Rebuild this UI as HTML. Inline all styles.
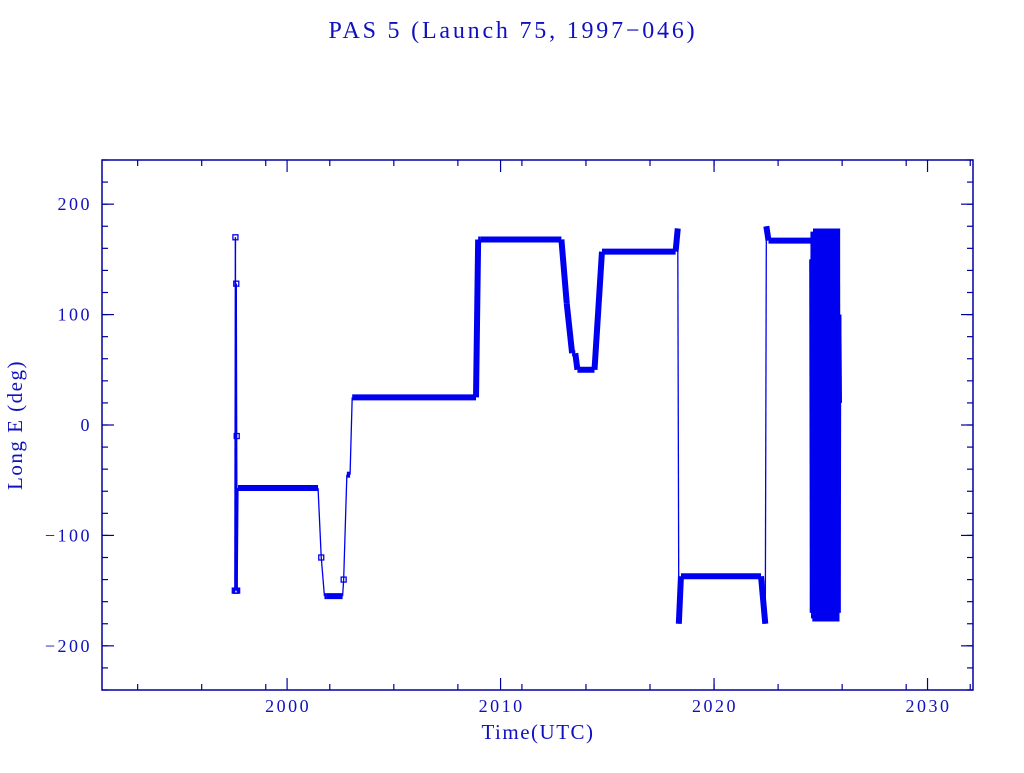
<!DOCTYPE html>
<html><head><meta charset="utf-8"><style>
body{margin:0;background:#fff;width:1024px;height:768px;overflow:hidden}
svg text{font-family:"Liberation Serif",serif;fill:#1010c0}
</style></head><body>
<svg id="chart" width="1024" height="768" xmlns="http://www.w3.org/2000/svg">
<text x="513" y="38" text-anchor="middle" font-size="24" letter-spacing="2.8">PAS 5 (Launch 75, 1997−046)</text>
<text x="538" y="739" text-anchor="middle" font-size="21" letter-spacing="1.5">Time(UTC)</text>
<text transform="translate(22,425) rotate(-90)" text-anchor="middle" font-size="21" letter-spacing="1.5">Long E (deg)</text>
<rect x="102" y="160" width="871" height="530" fill="none" stroke="#0000a0" stroke-width="1.5"/>
<g id="ticks"></g><g id="marks"></g>
</svg>
<script>
const xTickLabels=[2000,2010,2020,2030];
const yTickLabels=[200,100,0,-100,-200];
const years=[1997.55,1997.58,1997.6,1997.62,1997.64,1997.66,1997.7,2001.45,2001.6,2001.75,2001.85,2002.6,2002.65,2002.8,2002.95,2003.05,2008.85,2008.95,2009.05,2012.85,2013.1,2013.35,2013.5,2013.6,2014.4,2014.75,2018.2,2018.3,2018.35,2018.45,2022.2,2022.4,2022.45,2022.55,2024.55];
const lons=[-150,170,-150,128,-10,-150,-57,-57,-120,-155,-155,-155,-140,-45,-45,25,25,168,168,168,110,65,65,50,50,157,157,178,-180,-137,-137,-180,180,167,167];
const thick=[0,0,0,0,0,0,1,0,0,1,1,0,0,1,0,1,1,1,1,1,1,1,1,1,1,1,1,0,1,1,1,0,1,1,0];
const noiseYears=[2024.55,2024.58,2024.61,2024.64,2024.67,2024.7,2024.73,2024.76,2024.79,2024.82,2024.85,2024.88,2024.91,2024.94,2024.97,2025.0,2025.03,2025.06,2025.09,2025.12,2025.15,2025.18,2025.21,2025.24,2025.27,2025.3,2025.33,2025.36,2025.39,2025.42,2025.45,2025.48,2025.51,2025.54,2025.57,2025.6,2025.63,2025.66,2025.69,2025.72,2025.75,2025.78,2025.81,2025.84,2025.87,2025.9];
const noiseLons=[150,-170,175,-175,120,-178,178,-160,170,-178,178,-175,175,-178,160,-178,178,-170,178,-178,175,-175,178,-178,170,-175,178,-178,175,-170,178,-178,175,-178,178,-178,170,-178,178,-175,175,-178,178,-170,100,20];
const X=y=>102+(y-1991.33)*871/(2032.13-1991.33);
const Y=v=>690-(v+240)*530/480;
const ns="http://www.w3.org/2000/svg";
const tk=document.getElementById('ticks'),mk=document.getElementById('marks');
function line(g,x1,y1,x2,y2,w,c){const l=document.createElementNS(ns,'line');l.setAttribute('x1',x1);l.setAttribute('y1',y1);l.setAttribute('x2',x2);l.setAttribute('y2',y2);l.setAttribute('stroke',c);l.setAttribute('stroke-width',w);g.appendChild(l);return l;}
function txt(g,x,y,s,a){const t=document.createElementNS(ns,'text');t.setAttribute('x',x);t.setAttribute('y',y);t.setAttribute('text-anchor',a);t.setAttribute('font-size','18');t.setAttribute('letter-spacing','2.5');t.textContent=s;g.appendChild(t);return t;}
for(let yr=1993;yr<=2032;yr+=3){const x=X(yr);
const a=line(tk,x,690,x,684,1.2,'#0000a0');
const b=line(tk,x,160,x,166,1.2,'#0000a0');}
xTickLabels.forEach(v=>{const x=X(v);
const a=line(tk,x,690,x,678,1.2,'#0000a0');
const b=line(tk,x,160,x,172,1.2,'#0000a0');
const t=txt(tk,x+1,712,String(v),'middle');});
for(let v=-240;v<=240;v+=20){const y=Y(v);
const a=line(tk,102,y,108,y,1.2,'#0000a0');
const b=line(tk,973,y,967,y,1.2,'#0000a0');}
yTickLabels.forEach(v=>{const y=Y(v);
const a=line(tk,102,y,114,y,1.2,'#0000a0');
const b=line(tk,973,y,961,y,1.2,'#0000a0');
const t=txt(tk,92,y+6,v<0?'−'+Math.abs(v):String(v),'end');});
for(let i=0;i<years.length-1;i++){
const l=line(mk,X(years[i]),Y(lons[i]),X(years[i+1]),Y(lons[i+1]),thick[i]?6:1.3,'#0000f0');

}
for(let i=0;i<years.length;i++){
if(thick[i]||(i>0&&thick[i-1]))continue;
const r=document.createElementNS(ns,'rect');
r.setAttribute('x',X(years[i])-2.5);r.setAttribute('y',Y(lons[i])-2.5);r.setAttribute('width',5);r.setAttribute('height',5);
r.setAttribute('fill','none');r.setAttribute('stroke','#0000f0');r.setAttribute('stroke-width',1.3);


mk.appendChild(r);}
for(let i=0;i<noiseYears.length-1;i++){
const l=line(mk,X(noiseYears[i]),Y(noiseLons[i]),X(noiseYears[i+1]),Y(noiseLons[i+1]),4,'#0000f0');

}
</script>
</body></html>
